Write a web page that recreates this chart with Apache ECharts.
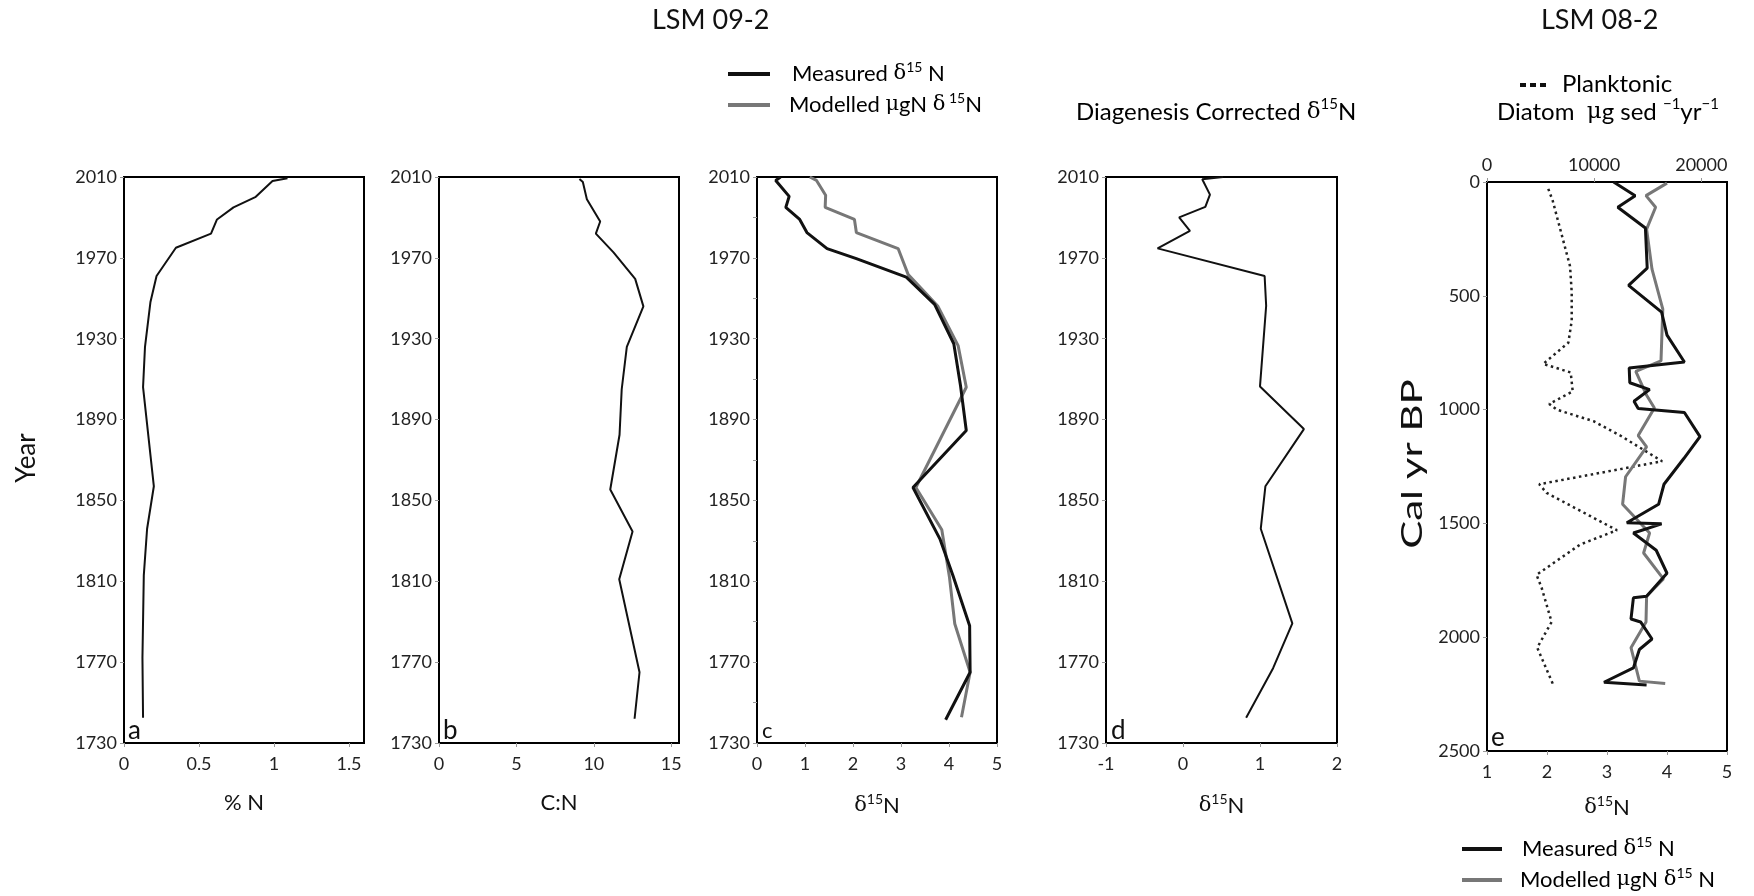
<!DOCTYPE html>
<html>
<head>
<meta charset="utf-8">
<script src="https://cdn.jsdelivr.net/npm/echarts@6/dist/echarts.min.js"></script>
<style>
html,body{margin:0;padding:0;background:#fff;}
#chart{width:1754px;height:896px;}
</style>
</head>
<body>
<div id="chart"></div>
<script>
// ---------- DATA ----------
// Panel a: %N vs year
var aPctN = [1.09,0.99,0.875,0.73,0.62,0.58,0.346,0.217,0.176,0.14,0.127,0.199,0.154,0.132,0.123,0.127];
var aYear = [2009.4,2008,2000,1995,1989,1982,1975,1961,1948,1926,1906,1857,1836,1813,1772,1742.5];
// Panel b: C:N vs year
var bCN = [9.07,9.29,9.55,10.41,10.13,11.27,12.67,13.2,12.13,11.8,11.66,11.06,12.5,11.64,12.95,12.63];
var bYear = [2009,2007.5,1999,1988,1982,1972.7,1959.6,1946,1926,1905,1882.5,1855.4,1834.6,1811,1765,1742];
// Panel c: measured & modelled d15N
var cMeas = [0.49,0.39,0.67,0.6,0.89,1.04,1.46,2.07,3.11,3.70,4.10,4.24,4.36,3.25,3.81,4.08,4.43,4.44,3.93];
var cMeasYear = [2010,2008.3,2000.4,1995,1989,1982.5,1974.6,1969.6,1960.5,1947,1927.5,1906.7,1884.6,1856.4,1831,1813,1788,1765,1741.5];
var cMod = [1.10,1.24,1.43,1.42,2.03,2.07,2.94,3.15,3.77,4.19,4.36,3.31,3.85,4.01,4.12,4.44,4.26];
var cModYear = [2010,2008.3,2001,1995,1989,1982.5,1974.6,1961.7,1946,1926.6,1906,1856.4,1835.5,1812,1789,1765,1742.7];
// Panel d: diagenesis corrected d15N
var dVal = [0.52,0.25,0.35,0.29,-0.05,0.09,-0.33,1.06,1.08,1.0,1.57,1.07,1.01,1.42,1.17,0.82];
var dYear = [2010,2008.9,2001.3,1995.2,1990,1983.4,1974.7,1961,1946.3,1906.4,1885.3,1857,1836,1789.2,1767,1742.5];
// Panel e: LSM 08-2
var eDiatom = [5719,6125,7750,7906,7906,7594,5250,7812,8000,5812,6500,9937,12437,16344,4875,5562,12125,8687,4625,5094,6031,4687,6187];
var eDiatomAge = [30,81,370,484,610,706,799,837,920,975,1000,1051,1114,1227,1328,1366,1530,1593,1726,1782,1933,2046,2210];
var eMeas = [3.11,3.47,3.18,3.64,3.67,3.36,3.91,4.0,4.29,3.37,3.38,3.71,3.45,3.52,4.29,4.55,4.28,3.95,3.86,3.33,3.91,3.44,3.82,4.0,3.66,3.44,3.40,3.56,3.75,3.54,3.44,2.95,3.66];
var eMeasAge = [0,60,111,202,378,454,572,673,791,817,882,912,963,995,1013,1119,1215,1328,1416,1497,1502,1542,1618,1719,1820,1827,1920,1933,2008,2054,2135,2198,2210];
var eMod = [4.0,3.65,3.81,3.66,3.75,3.93,3.90,3.48,3.66,3.79,3.52,3.66,3.31,3.26,3.71,3.61,3.94,3.66,3.65,3.40,3.54,3.97];
var eModAge = [5,60,111,207,383,559,786,832,937,993,1114,1164,1295,1416,1542,1630,1744,1820,1933,2046,2193,2203];

// Tick settings
var yearTicks = {min:1730, max:2010, interval:40};
var ageTicks = {min:0, max:2500, interval:500};

function pairs(xs, ys){ return xs.map(function(v,i){ return [v, ys[i]]; }); }

// ---------- STYLE ----------
var FONT = 'Lato, "Open Sans", sans-serif';
var SYM = '"DejaVu Serif", "Liberation Serif", serif';
function plain(v){ return String(v); }
var labelStyle = {fontFamily:FONT, fontSize:18, color:'#222', formatter:plain};
function rich(sz){
  return {
    t:{fontFamily:FONT, fontSize:sz, color:'#111'},
    d:{fontFamily:SYM, fontSize:sz-1, color:'#111'},
    s:{fontFamily:FONT, fontSize:Math.round(sz*0.62), color:'#111', padding:[0,0,Math.round(sz*0.62),0]}
  };
}
var richD = rich(22);
function xAx(grid, min, max, interval, nameRich, extra){
  var o = {
    type:'value', gridIndex:grid, min:min, max:max, interval:interval, position:'bottom',
    axisLine:{show:true, onZero:false, lineStyle:{color:'#000', width:2}},
    axisTick:{show:true, length:4, lineStyle:{color:'#999', width:1}},
    axisLabel:Object.assign({margin:12, showMaxLabel:(max % interval === 0)}, labelStyle),
    splitLine:{show:false},
    name:nameRich, nameLocation:'middle', nameGap:49,
    nameTextStyle:{rich:richD, fontFamily:FONT, fontSize:22, color:'#111'}
  };
  return Object.assign(o, extra||{});
}
function yAx(grid, t, extra){
  var o = {
    type:'value', gridIndex:grid, min:t.min, max:t.max, interval:t.interval,
    axisLine:{show:true, onZero:false, lineStyle:{color:'#000', width:2}},
    axisTick:{show:true, length:4, lineStyle:{color:'#999', width:1}},
    axisLabel:Object.assign({margin:7}, labelStyle),
    splitLine:{show:false}
  };
  return Object.assign(o, extra||{});
}
var gridBase = {show:true, borderColor:'#000', borderWidth:2, backgroundColor:'#fff', containLabel:false};

var option = {
  backgroundColor:'#fff',
  animation:false,
  grid:[
    Object.assign({left:124, top:177, width:240, height:566}, gridBase),
    Object.assign({left:439, top:177, width:240, height:566}, gridBase),
    Object.assign({left:757, top:177, width:240, height:566}, gridBase),
    Object.assign({left:1106, top:177, width:231, height:566}, gridBase),
    Object.assign({left:1487, top:182, width:240, height:569}, gridBase)
  ],
  xAxis:[
    xAx(0, 0, 1.6, 0.5, '{t|% N}'),
    xAx(1, 0, 15.5, 5, '{t|C:N}'),
    xAx(2, 0, 5, 1, '{d|δ}{s|15}{t|N}'),
    xAx(3, -1, 2, 1, '{d|δ}{s|15}{t|N}'),
    xAx(4, 1, 5, 1, '{d|δ}{s|15}{t|N}', {nameGap:43}),
    {
      type:'value', gridIndex:4, min:0, max:22400, interval:10000, position:'top',
      axisLine:{show:true, onZero:false, lineStyle:{color:'#000', width:2}},
      axisTick:{show:true, length:4, lineStyle:{color:'#999', width:1}},
      axisLabel:Object.assign({margin:8, showMaxLabel:false}, labelStyle),
      splitLine:{show:false}
    }
  ],
  yAxis:[
    yAx(0, yearTicks),
    yAx(1, yearTicks),
    yAx(2, yearTicks, {minorTick:{show:true, splitNumber:2, length:4, lineStyle:{color:'#999'}}}),
    yAx(3, yearTicks),
    yAx(4, ageTicks, {inverse:true})
  ],
  series:[
    {type:'line', name:'%N', xAxisIndex:0, yAxisIndex:0, data:pairs(aPctN,aYear), symbol:'none', lineStyle:{color:'#111', width:2}},
    {type:'line', name:'C:N', xAxisIndex:1, yAxisIndex:1, data:pairs(bCN,bYear), symbol:'none', lineStyle:{color:'#111', width:2}},
    {type:'line', name:'Modelled c', xAxisIndex:2, yAxisIndex:2, data:pairs(cMod,cModYear), symbol:'none', lineStyle:{color:'#777', width:3}},
    {type:'line', name:'Measured c', xAxisIndex:2, yAxisIndex:2, data:pairs(cMeas,cMeasYear), symbol:'none', lineStyle:{color:'#111', width:3}},
    {type:'line', name:'Diagenesis', xAxisIndex:3, yAxisIndex:3, data:pairs(dVal,dYear), symbol:'none', lineStyle:{color:'#111', width:2}},
    {type:'line', name:'Planktonic', xAxisIndex:5, yAxisIndex:4, data:pairs(eDiatom,eDiatomAge), symbol:'none', lineStyle:{color:'#222', width:2.5, type:[2.5,3.5]}},
    {type:'line', name:'Modelled e', xAxisIndex:4, yAxisIndex:4, data:pairs(eMod,eModAge), symbol:'none', lineStyle:{color:'#777', width:3}},
    {type:'line', name:'Measured e', xAxisIndex:4, yAxisIndex:4, data:pairs(eMeas,eMeasAge), symbol:'none', lineStyle:{color:'#111', width:3}}
  ],
  graphic:[
    {type:'text', left:652, top:7, style:{text:'LSM 09-2', fontFamily:FONT, fontSize:27, fill:'#111'}},
    {type:'text', left:1541, top:7, style:{text:'LSM 08-2', fontFamily:FONT, fontSize:27, fill:'#111'}},
    // legend top (panel c)
    {type:'line', shape:{x1:728, y1:74, x2:770, y2:74}, style:{stroke:'#111', lineWidth:4}},
    {type:'line', shape:{x1:728, y1:105, x2:770, y2:105}, style:{stroke:'#777', lineWidth:4}},
    {type:'text', x:792, y:74, style:{text:'{t|Measured }{d|δ}{s|15}{t| N}', rich:richD, verticalAlign:'middle'}},
    {type:'text', x:789, y:105, style:{text:'{t|Modelled }{d|μ}{t|gN }{d|δ}{s| 15}{t|N}', rich:richD, verticalAlign:'middle'}},
    // diagenesis title
    {type:'text', x:1076, y:112, style:{text:'{t|Diagenesis Corrected }{d|δ}{s|15}{t|N}', rich:rich(24), verticalAlign:'middle'}},
    // panel e top legend
    {type:'line', shape:{x1:1520, y1:85, x2:1549, y2:85}, style:{stroke:'#111', lineWidth:4, lineDash:[6,4]}},
    {type:'text', x:1562, y:84, style:{text:'{t|Planktonic}', rich:rich(24), verticalAlign:'middle'}},
    {type:'text', x:1497, y:112, style:{text:'{t|Diatom  }{d|μ}{t|g sed }{s|−1}{t|yr}{s|−1}', rich:rich(24), verticalAlign:'middle'}},
    // panel e bottom legend
    {type:'line', shape:{x1:1462, y1:849, x2:1502, y2:849}, style:{stroke:'#111', lineWidth:4}},
    {type:'line', shape:{x1:1462, y1:880, x2:1502, y2:880}, style:{stroke:'#777', lineWidth:4}},
    {type:'text', x:1522, y:849, style:{text:'{t|Measured }{d|δ}{s|15}{t| N}', rich:richD, verticalAlign:'middle'}},
    {type:'text', x:1520, y:880, style:{text:'{t|Modelled }{d|μ}{t|gN }{d|δ}{s|15}{t| N}', rich:richD, verticalAlign:'middle'}},
    // axis titles
    {type:'text', x:27, y:458, rotation:Math.PI/2, style:{text:'Year', fontFamily:FONT, fontSize:26, fill:'#111', align:'center', verticalAlign:'middle'}},
    {type:'text', x:1413, y:464, rotation:Math.PI/2, scaleX:1.5, style:{text:'Cal yr BP', fontFamily:FONT, fontSize:28, fill:'#111', align:'center', verticalAlign:'middle'}},
    // panel letters
    {type:'text', x:128, y:731, style:{text:'a', fontFamily:FONT, fontSize:26, fill:'#111', verticalAlign:'middle'}},
    {type:'text', x:443, y:731, style:{text:'b', fontFamily:FONT, fontSize:26, fill:'#111', verticalAlign:'middle'}},
    {type:'text', x:762, y:731, style:{text:'c', fontFamily:FONT, fontSize:22, fill:'#111', verticalAlign:'middle'}},
    {type:'text', x:1111, y:731, style:{text:'d', fontFamily:FONT, fontSize:26, fill:'#111', verticalAlign:'middle'}},
    {type:'text', x:1491, y:738, style:{text:'e', fontFamily:FONT, fontSize:26, fill:'#111', verticalAlign:'middle'}}
  ]
};
var chart = echarts.init(document.getElementById('chart'), null, {renderer:'canvas'});
chart.setOption(option);
</script>
</body>
</html>
